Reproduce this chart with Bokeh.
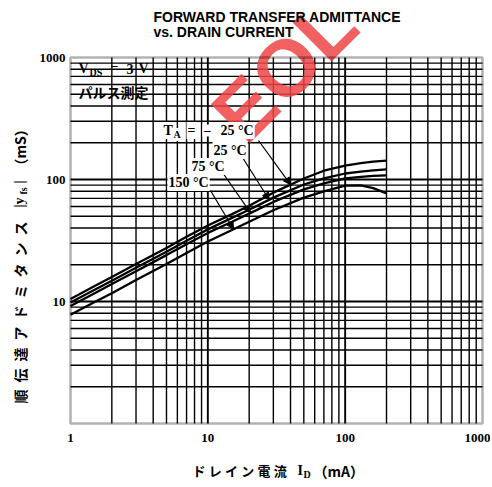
import numpy as np
from bokeh.plotting import figure
from bokeh.models import Label, Arrow, NormalHead, BoxAnnotation, Range1d
from bokeh.core.properties import value
from bokeh.embed import file_html
from bokeh.resources import INLINE

# ---------------- data ----------------
drain_current_mA = [1, 1.5, 2, 3, 5, 7, 10, 15, 20, 30, 50, 70, 100, 130, 160, 200]
yfs_m25C = [10.5, 13.4, 15.9, 20.3, 27.5, 34, 42, 52, 61, 78, 102, 118, 130, 136, 140, 143]
yfs_25C = [9.8, 12.5, 14.8, 18.9, 25.6, 31.5, 39, 48.5, 56.5, 71, 91, 102, 112, 116, 119, 121]
yfs_75C = [9.2, 11.7, 13.9, 17.7, 24, 29.5, 36.5, 45, 52.5, 65.5, 83, 93, 102, 105, 107, 108]
yfs_150C = [7.8, 9.9, 11.7, 15, 20.3, 25, 31, 38.5, 45, 56, 71, 80, 89, 89.5, 85, 77]
series = [yfs_m25C, yfs_25C, yfs_75C, yfs_150C]
temp_labels = ["25 °C", "25 °C", "75 °C", "150 °C"]
arrow_target_mA = [40, 28, 20.5, 15.4]

x_ticks = [1, 10, 100, 1000]
x_tick_labels = ["1", "10", "100", "1000"]
y_ticks = [10, 100, 1000]
y_tick_labels = ["10", "100", "1000"]
minor_ticks = [m * 10 ** d for d in range(3) for m in range(2, 10)]

SERIF = "Liberation Serif"
CJK = "Noto Sans CJK JP"
SANS = "Liberation Sans"

# canvas pixel -> data (the plotting area spans x 70..482, y 57..423 of the canvas)
W, H = 490, 485
FL, FR, FT, FB = 70, 482, 57, 423
def dx(xp):
    return 10 ** (3 * (xp - FL) / (FR - FL))
def dy(yp):
    return 10 ** (3 * (FB - yp) / (FB - FT))

p = figure(width=W, height=H, x_axis_type="log", y_axis_type="log",
           x_range=Range1d(dx(0), dx(W)), y_range=Range1d(dy(H), dy(0)),
           x_axis_location=None, y_axis_location=None, title=None,
           output_backend="svg", toolbar_location=None,
           min_border_left=0, min_border_right=0, min_border_top=0, min_border_bottom=0)
p.background_fill_color = "white"
p.border_fill_color = "white"
p.outline_line_color = None
p.grid.visible = False

# grid lines at the tick positions
xmin, xmax = x_ticks[0], x_ticks[-1]
ymin, ymax = 1, y_ticks[-1]
vx_major = x_ticks[1:-1]
p.segment(x0=vx_major, x1=vx_major, y0=[ymin] * len(vx_major), y1=[ymax] * len(vx_major),
          line_color="black", line_width=1.9)
p.segment(x0=minor_ticks, x1=minor_ticks, y0=[ymin] * len(minor_ticks), y1=[ymax] * len(minor_ticks),
          line_color="black", line_width=1.4)
hy_major = y_ticks[:-1]
p.segment(x0=[xmin] * len(hy_major), x1=[xmax] * len(hy_major), y0=hy_major, y1=hy_major,
          line_color="black", line_width=1.9)
p.segment(x0=[xmin] * len(minor_ticks), x1=[xmax] * len(minor_ticks), y0=minor_ticks, y1=minor_ticks,
          line_color="black", line_width=1.4)

# white box behind the V_DS note
p.add_layout(BoxAnnotation(left=xmin, right=dx(153), bottom=dy(104), top=ymax,
                           fill_color="white", fill_alpha=1.0, line_color=None,
                           level="underlay"))

for ys in series:
    p.line(drain_current_mA, ys, line_color="black", line_width=2.3)

# frame
p.add_layout(BoxAnnotation(left=xmin, right=xmax, bottom=ymin, top=ymax,
                           fill_color=None, line_color="black", line_width=2.6,
                           level="overlay"))

# tick labels
p.text(x=x_ticks[:-1], y=[dy(437)] * (len(x_ticks) - 1), text=x_tick_labels[:-1],
       text_font=value(SERIF), text_font_style="bold", text_font_size="13px",
       text_align="center", text_baseline="middle", text_color="black")
p.text(x=x_ticks[-1:], y=[dy(437)], text=x_tick_labels[-1:], x_offset=8,
       text_font=value(SERIF), text_font_style="bold", text_font_size="13px",
       text_align="right", text_baseline="middle", text_color="black")
p.text(x=[dx(65)] * len(y_ticks), y=y_ticks, text=y_tick_labels,
       text_font=value(SERIF), text_font_style="bold", text_font_size="13px",
       text_align="right", text_baseline="middle", text_color="black")

def lbl(text, xp, yp, size, font=SERIF, style="bold", bg=None, angle=0.0,
        align="left", color="black", alpha=1.0, baseline="middle"):
    lab = Label(x=dx(xp), y=dy(yp), text=text, text_font=font, text_font_style=style,
                text_font_size=f"{size}px", text_color=color, text_alpha=alpha,
                text_align=align, text_baseline=baseline, angle=angle)
    if bg:
        lab.background_fill_color = bg
        lab.background_fill_alpha = 1.0
        lab.padding = 1
    p.add_layout(lab)

# EOL watermark
lbl("EOL", 226, 127, 80, font=SANS, color="#f04545", alpha=0.85,
    angle=np.pi / 4, baseline="alphabetic")

# arrows from temperature labels to the curves
arrow_starts = [(258, 140), (242, 157), (222, 172), (210, 190)]
lx = np.log10(drain_current_mA)
for (xs, ys_), xt, ser in zip(arrow_starts, arrow_target_mA, series):
    yt = 10 ** np.interp(np.log10(xt), lx, np.log10(ser))
    p.add_layout(Arrow(end=NormalHead(size=7, fill_color="black", line_color="black"),
                       x_start=dx(xs), y_start=dy(ys_), x_end=xt, y_end=yt,
                       line_width=1.2, line_color="black"))

# temperature labels
lbl("T", 162, 130, 14, bg="white")
lbl("A", 172, 134, 10, bg="white")
lbl("=", 186, 130, 14, bg="white")
lbl("−", 202, 130, 14, bg="white")
lbl(temp_labels[0], 219, 130, 14, bg="white")
lbl(temp_labels[1], 212, 150, 14, bg="white")
lbl(temp_labels[2], 190, 166, 14, bg="white")
lbl(temp_labels[3], 167, 182, 14, bg="white")

# V_DS note
lbl("V", 78, 68, 14)
lbl("DS", 89, 72, 10)
lbl("=", 110, 68, 14)
lbl("3", 126, 68, 14)
lbl("V", 138, 68, 14)
lbl("パルス測定", 78, 91, 14, font=CJK)

# title
lbl("FORWARD TRANSFER ADMITTANCE", 153, 16.5, 14, font=SANS)
lbl("vs. DRAIN CURRENT", 153, 31.5, 14, font=SANS)

# x axis label
lbl("ド\u2005レ\u2005イ\u2005ン\u2005電\u2005流", 192, 470, 13, font=CJK)
lbl("I", 297, 470, 14)
lbl("D", 303, 474, 10)
lbl("（mA）", 313, 470, 14, font=CJK)

# y axis label (rotated)
lbl("順\u2002伝\u2002達\u2002ア\u2002ド\u2002ミ\u2002タ\u2002ン\u2002ス", 19, 403, 14,
    font=CJK, angle=np.pi / 2)
lbl("|y", 19, 207, 14, angle=np.pi / 2)
lbl("fs", 23, 194, 10, angle=np.pi / 2)
lbl("|", 19, 183, 14, angle=np.pi / 2)
lbl("（mS）", 19, 172, 14, font=CJK, angle=np.pi / 2)

open("out.html", "w").write(file_html(p, INLINE))
